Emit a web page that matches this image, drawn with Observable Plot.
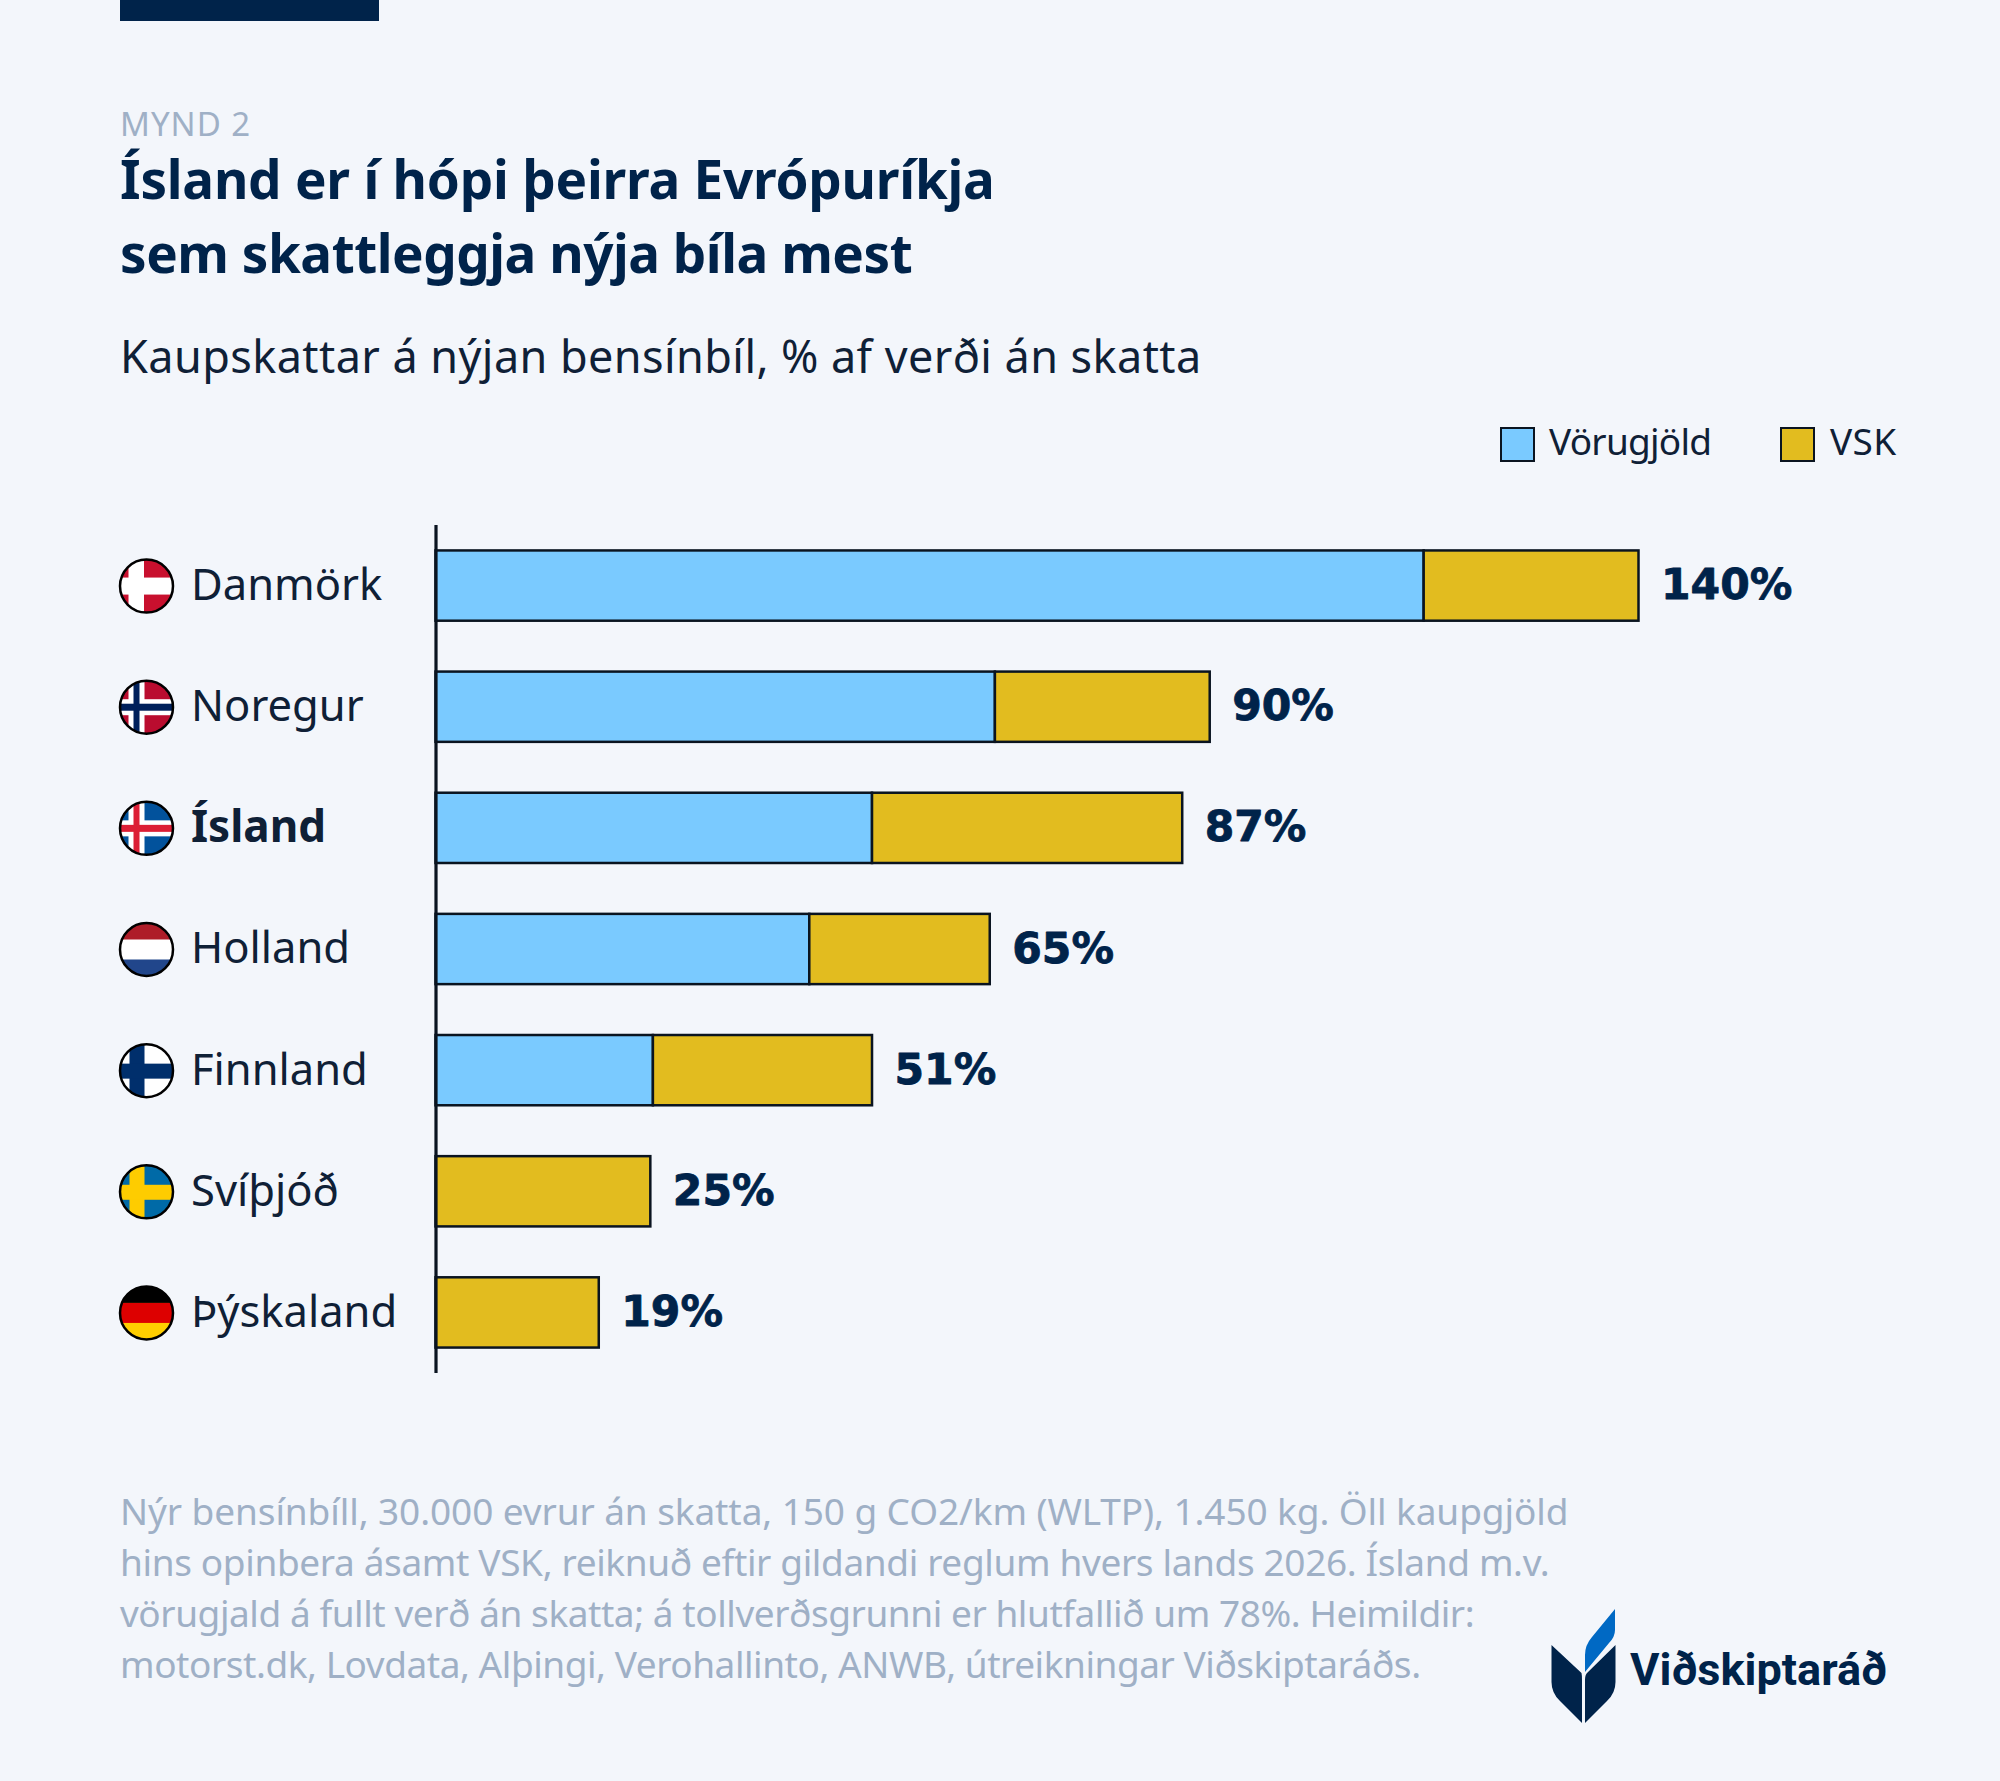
<!DOCTYPE html>
<html lang="is">
<head>
<meta charset="utf-8">
<title>Mynd 2</title>
<script src="https://cdn.jsdelivr.net/npm/d3@7"></script>
<script src="https://cdn.jsdelivr.net/npm/@observablehq/plot@0.6"></script>
<style>
  html, body { margin: 0; padding: 0; background: #f3f6fb; overflow: hidden; }
  #page { position: relative; width: 2000px; height: 1781px; overflow: hidden; background: #f3f6fb; font-family: "Noto Sans", sans-serif; color: #0f2036; }
  #page > * { position: absolute; white-space: nowrap; margin: 0; }
  #bar { left: 120px; top: 0; width: 259px; height: 21px; background: #00234a; }
  #kicker { left: 120px; top: 104px; font-size: 33px; line-height: 40px; color: #9fb0c6; letter-spacing: 1px; }
  #title { left: 120px; top: 141.5px; font-size: 53px; line-height: 74px; font-weight: 700; color: #00234a; }
  #title span, #note span { display: block; }
  #title span:nth-child(1) { letter-spacing: -0.22px; }
  #title span:nth-child(2) { letter-spacing: -0.47px; }
  #subtitle { left: 120px; top: 326px; font-size: 45px; line-height: 60px; letter-spacing: 0.42px; color: #0f2036; }
  .swatch { top: 427px; width: 31px; height: 31px; border: 2.5px solid #0a1420; }
  .legtext { top: 416px; font-size: 37px; line-height: 50px; }
  #leg0 { left: 1549px; letter-spacing: -0.75px; }
  #leg1 { left: 1830px; letter-spacing: 0.4px; }
  #chart { left: 0; top: 500px; }
  #note { left: 120px; top: 1484.5px; font-size: 37px; line-height: 51px; color: #9fb0c6; }
  #note span:nth-child(1) { letter-spacing: -0.09px; }
  #note span:nth-child(2) { letter-spacing: -0.36px; }
  #note span:nth-child(3) { letter-spacing: -0.44px; }
  #note span:nth-child(4) { letter-spacing: -0.45px; }
  #logo { left: 0; top: 0; width: 2000px; height: 1781px; pointer-events: none; }
</style>
</head>
<body>
<div id="page">
  <div id="bar"></div>
  <div id="kicker"></div>
  <div id="title"></div>
  <div id="subtitle"></div>
  <div class="swatch" style="left:1500px;background:#7acaff"></div>
  <div class="legtext" id="leg0"></div>
  <div class="swatch" style="left:1780px;background:#e2bc1f"></div>
  <div class="legtext" id="leg1"></div>
  <div id="chart"></div>
  <div id="note"></div>
  <svg id="logo" viewBox="0 0 2000 1781">
    <path fill="#00234a" d="M1551.5 1645 L1581.5 1673 Q1582 1675 1582 1680 L1582 1723 L1560 1701 Q1551.5 1693 1551.5 1682 Z"/>
    <path fill="#00234a" d="M1615.5 1645 L1587 1673 Q1585 1675 1585 1680 L1585 1723 L1607 1701 Q1615.5 1693 1615.5 1682 Z"/>
    <path fill="#0069c4" d="M1615 1609 L1615 1630 Q1615 1637 1609 1643 L1585 1672 L1585 1655 Q1585 1645 1592 1637 Z"/>
    <text id="logotext" x="1630" y="1685" font-size="44" font-weight="700" fill="#00234a" font-family="Roboto, sans-serif" textLength="257" lengthAdjust="spacingAndGlyphs"></text>
  </svg>
</div>
<script>
const kicker = "MYND 2";
const titleLines = ["Ísland er í hópi þeirra Evrópuríkja", "sem skattleggja nýja bíla mest"];
const subtitle = "Kaupskattar á nýjan bensínbíl, % af verði án skatta";
const legendLabels = ["Vörugjöld", "VSK"];
const noteLines = [
  "Nýr bensínbíll, 30.000 evrur án skatta, 150 g CO2/km (WLTP), 1.450 kg. Öll kaupgjöld",
  "hins opinbera ásamt VSK, reiknuð eftir gildandi reglum hvers lands 2026. Ísland m.v.",
  "vörugjald á fullt verð án skatta; á tollverðsgrunni er hlutfallið um 78%. Heimildir:",
  "motorst.dk, Lovdata, Alþingi, Verohallinto, ANWB, útreikningar Viðskiptaráðs."
];
const logoName = "Viðskiptaráð";

const countries = ["Danmörk", "Noregur", "Ísland", "Holland", "Finnland", "Svíþjóð", "Þýskaland"];
const vorugjold = [115, 65.1, 50.8, 43.5, 25.3, 0, 0];
const vsk = [25, 25, 36.1, 21, 25.5, 25, 19];
const totalLabels = ["140%", "90%", "87%", "65%", "51%", "25%", "19%"];
const highlighted = "Ísland";

const bgBlue = "#7acaff", bgGold = "#e2bc1f", navy = "#00234a", ink = "#0a1420";

function flagUri(shapes) {
  const svg = `<svg xmlns="http://www.w3.org/2000/svg" width="54" height="54" viewBox="0 0 54 54">${shapes}</svg>`;
  return "data:image/svg+xml;charset=utf-8," + encodeURIComponent(svg);
}
const r = (fill, x, y, w, h) => `<rect fill="${fill}" x="${x}" y="${y}" width="${w}" height="${h}"/>`;
const flags = [
  flagUri(r("#c8102e",0,0,54,54) + r("#fff",9,0,15.5,54) + r("#fff",0,18.5,54,17)),
  flagUri(r("#ba0c2f",0,0,54,54) + r("#fff",9,0,16,54) + r("#fff",0,19,54,16) + r("#00205b",14,0,6,54) + r("#00205b",0,23.5,54,7)),
  flagUri(r("#02529c",0,0,54,54) + r("#fff",9,0,16,54) + r("#fff",0,19,54,16) + r("#dc1e35",14,0,6,54) + r("#dc1e35",0,23.5,54,7)),
  flagUri(r("#fff",0,0,54,54) + r("#ae1c28",0,0,54,17) + r("#21468b",0,37,54,17)),
  flagUri(r("#fff",0,0,54,54) + r("#002f6c",10,0,15,54) + r("#002f6c",0,20,54,15)),
  flagUri(r("#006aa7",0,0,54,54) + r("#fecc00",10,0,15,54) + r("#fecc00",0,20,54,15)),
  flagUri(r("#ffce00",0,0,54,54) + r("#000",0,0,54,17) + r("#dd0000",0,17,54,20))
];

const spans = lines => lines.map(l => `<span>${l}</span>`).join("");
document.getElementById("kicker").textContent = kicker;
document.getElementById("title").innerHTML = spans(titleLines);
document.getElementById("subtitle").textContent = subtitle;
document.getElementById("leg0").textContent = legendLabels[0];
document.getElementById("leg1").textContent = legendLabels[1];
document.getElementById("note").innerHTML = spans(noteLines);
document.getElementById("logotext").textContent = logoName;

const rows = countries.map((c, i) => ({country: c, flag: flags[i], label: totalLabels[i], total: vorugjold[i] + vsk[i]}));
const segments = countries.flatMap((c, i) => [
  {country: c, kind: legendLabels[0], value: vorugjold[i]},
  {country: c, kind: legendLabels[1], value: vsk[i]}
]).filter(d => d.value > 0);

const plot = Plot.plot({
  width: 2000,
  height: 900,
  marginLeft: 435.5,
  marginRight: 361.5,
  marginTop: 25,
  marginBottom: 27,
  style: {background: "transparent", fontFamily: '"Noto Sans", sans-serif', overflow: "visible"},
  x: {domain: [0, 140], axis: null},
  y: {domain: countries, axis: null, paddingInner: 0.42, paddingOuter: 0.21, round: false},
  color: {domain: legendLabels, range: [bgBlue, bgGold]},
  marks: [
    Plot.barX(segments, Plot.stackX({x: "value", y: "country", fill: "kind", order: legendLabels, stroke: ink, strokeWidth: 2.5})),
    Plot.ruleX([0], {stroke: ink, strokeWidth: 3.2}),
    Plot.text(rows, {x: "total", y: "country", text: "label", dx: 22, dy: -0.5, textAnchor: "start", fontSize: 42.5, fontWeight: 700, fill: navy, stroke: navy, strokeWidth: 0.8, fontFamily: '"DejaVu Sans", sans-serif'}),
    Plot.text(rows.filter(d => d.country !== highlighted), {x: () => 0, y: "country", text: "country", dx: -245, textAnchor: "start", fontSize: 43.5, fill: "#0f2036"}),
    Plot.text(rows.filter(d => d.country === highlighted), {x: () => 0, y: "country", text: "country", dx: -245, textAnchor: "start", fontSize: 44, fontWeight: 700, fill: "#0f2036"}),
    Plot.image(rows, {x: () => 0, y: "country", dx: -289.5, src: "flag", r: 27, preserveAspectRatio: "xMidYMid slice"}),
    Plot.dot(rows, {x: () => 0, y: "country", dx: -289.5, r: 26.5, stroke: "#000", strokeWidth: 2.5, fill: "none"})
  ]
});
document.getElementById("chart").appendChild(plot);
</script>
</body>
</html>
